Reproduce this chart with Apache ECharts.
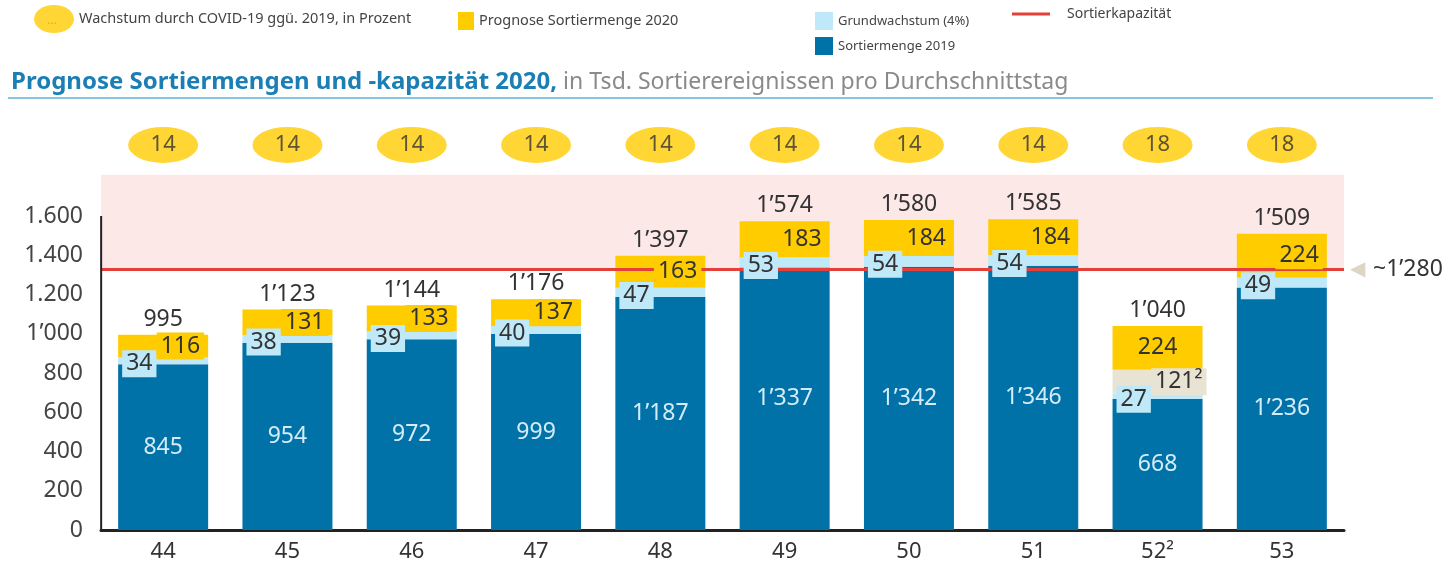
<!DOCTYPE html>
<html>
<head>
<meta charset="utf-8">
<script src="https://cdn.jsdelivr.net/npm/echarts@6/dist/echarts.min.js"></script>
<style>
  html, body { margin: 0; padding: 0; background: #fff; }
  #chart { width: 1453px; height: 568px; }
</style>
</head>
<body>
<div id="chart"></div>
<script>
// Kalenderwochen (52 mit Fussnote)
const weeks = ['44', '45', '46', '47', '48', '49', '50', '51', '52²', '53']
const sortiermenge2019 = [845, 954, 972, 999, 1187, 1337, 1342, 1346, 668, 1236]
const grundwachstum = [34, 38, 39, 40, 47, 53, 54, 54, 27, 49]
const sonderwoche52 = [0, 0, 0, 0, 0, 0, 0, 0, 121, 0]
const prognose2020 = [116, 131, 133, 137, 163, 183, 184, 184, 224, 224]
const totals = [995, 1123, 1144, 1176, 1397, 1574, 1580, 1585, 1040, 1509]
const covidWachstum = [14, 14, 14, 14, 14, 14, 14, 14, 18, 18]
const yTickLabels = ['0', '200', '400', '600', '800', '1’000', '1.200', '1.400', '1.600']

// Kapazitätslinie wie im Original gezeichnet, Beschriftung ~1'280
const kapazitaetLevel = 1330
const kapazitaetLabel = '~1’280'
const ellipseRow = 1962

const FONT = 'Noto Sans'
const C_DARK = '#0072a8'
const C_LIGHT = '#bfe8f9'
const C_YELLOW = '#ffcc00'
const C_BEIGE = '#e9e3d3'
const C_RED = '#e53f3a'

const fmt = n => n >= 1000 ? Math.floor(n / 1000) + '’' + String(n % 1000).padStart(3, '0') : String(n)

const ELLIPSE = 'path://M0,10 A20,10 0 1,1 40,10 A20,10 0 1,1 0,10 Z'
const ELLIPSE_LEG = 'path://M0,14 A20,14 0 1,1 40,14 A20,14 0 1,1 0,14 Z'

var myChart = echarts.init(document.getElementById('chart'))

const boxLabel = (bg, pos) => ({
    show: true,
    position: pos,
    distance: 4,
    fontFamily: FONT,
    fontSize: 23,
    color: '#333',
    backgroundColor: bg,
    padding: [0, 4, 0, 4],
    lineHeight: 27
})

const legText = size => ({ fontFamily: FONT, fontSize: size, color: '#444' })

var option = {
    animation: false,
    textStyle: { fontFamily: FONT },
    title: {
        left: 6,
        top: 65,
        text: '{b|Prognose Sortiermengen und -kapazität 2020,}{n| in Tsd. Sortierereignissen pro Durchschnittstag}',
        textStyle: {
            rich: {
                b: { fontFamily: FONT, fontSize: 24, fontWeight: 'bold', color: '#1b7fb5' },
                n: { fontFamily: FONT, fontSize: 23, fontWeight: 'normal', color: '#8a8a8a' }
            }
        }
    },
    legend: [
        {
            data: ['Wachstum durch COVID-19 ggü. 2019, in Prozent'],
            left: 34, top: 5, padding: 0,
            itemWidth: 40, itemHeight: 28, itemGap: 8,
            icon: ELLIPSE_LEG,
            textStyle: legText(14.5)
        },
        {
            data: ['Prognose Sortiermenge 2020'],
            left: 458, top: 12, padding: 0,
            itemWidth: 16, itemHeight: 18, icon: 'rect',
            textStyle: legText(14.5)
        },
        {
            data: ['Grundwachstum (4%)'],
            left: 815, top: 12, padding: 0,
            itemWidth: 18, itemHeight: 18, icon: 'rect',
            textStyle: legText(13)
        },
        {
            data: ['Sortiermenge 2019'],
            left: 815, top: 37, padding: 0,
            itemWidth: 18, itemHeight: 18, icon: 'rect',
            textStyle: legText(13)
        },
        {
            data: ['Sortierkapazität'],
            left: 1012, top: 7, padding: 0,
            itemWidth: 38, itemHeight: 3, icon: 'rect',
            textStyle: Object.assign(legText(14), { padding: [0, 0, 6, 12] })
        }
    ],
    grid: { left: 101, right: 109, top: 137.5, bottom: 38 },
    xAxis: {
        type: 'category',
        data: weeks,
        axisLine: { lineStyle: { color: '#222', width: 3 } },
        axisTick: { show: false },
        axisLabel: { fontFamily: FONT, fontSize: 22, color: '#333', margin: 11 }
    },
    yAxis: {
        type: 'value',
        min: 0,
        max: 2000,
        interval: 200,
        axisLine: { show: false },
        splitLine: { show: false },
        axisLabel: {
            fontFamily: FONT, fontSize: 23, color: '#444', margin: 18,
            formatter: v => yTickLabels[v / 200] || ''
        }
    },
    series: [
        {
            name: 'Sortiermenge 2019', type: 'bar', stack: 'main', z: 2,
            barWidth: 90, barGap: '-100%',
            itemStyle: { color: C_DARK },
            label: { show: true, position: 'inside', fontSize: 23, color: '#d4ecf8', formatter: p => fmt(p.value) },
            data: sortiermenge2019
        },
        {
            name: 'Grundwachstum (4%)', type: 'bar', stack: 'main', z: 2,
            barWidth: 90, barGap: '-100%',
            itemStyle: { color: C_LIGHT },
            data: grundwachstum
        },
        {
            name: 'Sonderwoche', type: 'bar', stack: 'main', z: 2,
            barWidth: 90, barGap: '-100%',
            itemStyle: { color: C_BEIGE },
            data: sonderwoche52
        },
        {
            name: 'Prognose Sortiermenge 2020', type: 'bar', stack: 'main', z: 2,
            barWidth: 90, barGap: '-100%',
            itemStyle: { color: C_YELLOW },
            label: {
                show: true, position: 'top', distance: 4, fontSize: 23, color: '#333',
                formatter: p => fmt(totals[p.dataIndex])
            },
            data: prognose2020
        },
        {
            name: 'Sortierkapazität', type: 'line', data: [],
            itemStyle: { color: C_RED },
            lineStyle: { color: C_RED },
            markArea: {
                silent: true, z: 1,
                itemStyle: { color: '#fde8e8' },
                data: [[{ yAxis: kapazitaetLevel }, { yAxis: 1810 }]]
            },
            markLine: {
                silent: true, z: 5,
                symbol: ['none', 'none'],
                lineStyle: { color: C_RED, width: 3, type: 'solid' },
                label: {
                    show: true, position: 'end', distance: 6,
                    formatter: '{t|◀} ' + kapazitaetLabel,
                    fontFamily: FONT, fontSize: 23, color: '#333',
                    rich: { t: { fontSize: 20, color: '#dcd6c4', padding: [0, 2, 0, 0] } }
                },
                data: [{ yAxis: kapazitaetLevel }]
            }
        },
        // Beschriftungen über der Kapazitätslinie
        {
            name: 'lbl-grund', type: 'bar', stack: 'ov', z: 6,
            barWidth: 90, barGap: '-100%',
            itemStyle: { color: 'transparent' },
            data: sortiermenge2019
        },
        {
            name: 'lbl-grund2', type: 'bar', stack: 'ov', z: 6,
            barWidth: 90, barGap: '-100%',
            itemStyle: { color: 'transparent' },
            label: Object.assign(boxLabel(C_LIGHT, 'insideLeft'), { offset: [0, 3] }),
            data: grundwachstum
        },
        {
            name: 'lbl-sonder', type: 'bar', stack: 'ov', z: 6,
            barWidth: 90, barGap: '-100%',
            itemStyle: { color: 'transparent' },
            label: Object.assign(boxLabel(C_BEIGE, 'insideRight'), {
                distance: -4,
                formatter: p => p.value ? fmt(p.value) + '²' : ''
            }),
            data: sonderwoche52
        },
        {
            name: 'lbl-prognose', type: 'bar', stack: 'ov', z: 6,
            barWidth: 90, barGap: '-100%',
            itemStyle: { color: 'transparent' },
            label: boxLabel(C_YELLOW, 'insideRight'),
            data: prognose2020.map((v, i) => i === 8
                ? { value: v, label: { position: 'inside', backgroundColor: 'transparent' } }
                : v)
        },
        {
            name: 'Wachstum durch COVID-19 ggü. 2019, in Prozent', type: 'scatter', z: 3,
            symbol: ELLIPSE, symbolSize: [70, 36], symbolKeepAspect: false,
            itemStyle: { color: C_YELLOW },
            label: { show: true, position: 'inside', fontSize: 22, color: '#333', formatter: p => covidWachstum[p.dataIndex] },
            data: covidWachstum.map(() => ellipseRow)
        }
    ]
}

myChart.setOption(option)

// y-Achsenlinie nur bis 1.600, Titel-Unterstrich, Punkte im Legenden-Oval
const axisTop = myChart.convertToPixel({ yAxisIndex: 0 }, 1600)
const axisBottom = myChart.convertToPixel({ yAxisIndex: 0 }, 0)
const axisX = myChart.convertToPixel({ xAxisIndex: 0 }, 0) - 62
myChart.setOption({
    graphic: [
        { type: 'line', shape: { x1: axisX, y1: axisTop, x2: axisX, y2: axisBottom }, style: { stroke: '#222', lineWidth: 2 }, z: 10 },
        { type: 'line', shape: { x1: 8, y1: 98, x2: 1433, y2: 98 }, style: { stroke: '#86c6e3', lineWidth: 2 } },
        { type: 'text', left: 47, top: 15, style: { text: '...', fontSize: 12, fill: '#555', fontFamily: FONT } }
    ]
})

window.onresize = () => {
    myChart.resize()
}
</script>
</body>
</html>
